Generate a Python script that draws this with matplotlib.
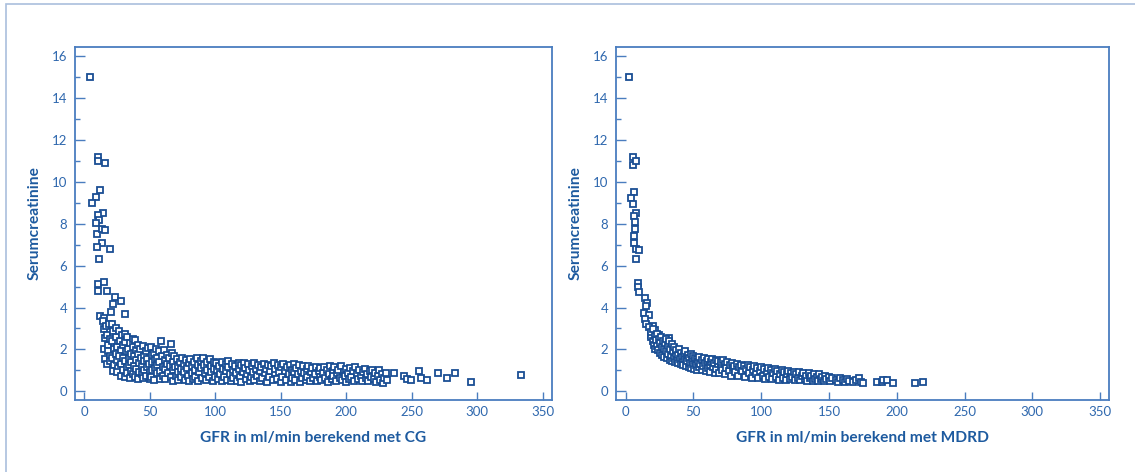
import matplotlib
matplotlib.use("Agg")
import matplotlib.pyplot as plt
from matplotlib.patches import Rectangle
from matplotlib.ticker import MultipleLocator

# ---------------- data: CG ----------------
cg_x = [4.6, 10.9, 10.9, 16, 12.2, 9.1, 6.1, 14.2, 10.4, 11.7, 9.1, 9.6, 13.7, 16, 13.5, 9.6, 20, 11.7,
        10.9, 15.2, 10.7, 17.7, 23.6, 28.2, 22.3, 20.5, 31.2, 12.4, 15.5,
        14.5, 15.5, 16, 15, 15.8, 17, 17.5, 18, 18.5, 17.5, 19, 19.5, 20, 20,
        21, 22, 21.5, 22.5, 21, 23, 22, 24, 24.5, 25, 24, 25.5, 26, 25, 27, 27.5, 28, 27, 28.5, 28, 29, 29.5, 30, 30,
        31, 31.5, 32, 31, 32.5, 31.5, 33, 33.5, 34, 34, 33, 35, 35.5, 36, 36, 35, 37, 37.5, 38, 38, 37, 39, 39.5, 40, 40, 39,
        41, 41.5, 42, 42, 41, 43, 43.5, 44, 44, 45, 45.5, 46, 46, 45, 47, 48, 48, 47, 49, 49.5, 50, 50,
        51, 51.5, 52, 52, 51, 53, 54, 54, 53, 55, 55.5, 56, 56, 57, 57.5, 58, 58, 59, 59.5, 60, 60,
        61, 61.5, 62, 62, 63, 63.5, 64, 65, 65.5, 66, 66, 67, 67.5, 68, 68, 69, 69.5, 70,
        71, 71.5, 72, 72, 73, 74, 74, 75, 76, 76, 77, 78, 78.5, 79, 80, 80,
        81, 82, 82, 83, 84, 85, 85, 86, 87, 87, 88, 89, 89.5, 90,
        91, 91.5, 92, 93, 93.5, 94, 95, 96, 96.5, 97, 98, 99, 99.5, 100,
        101, 101.5, 102, 103, 104, 105, 105.5, 106, 107, 108, 108.5, 109, 110, 110,
        111, 112, 113, 113.5, 114, 115, 116, 117, 118, 118.5, 119, 120, 120,
        121, 122, 123, 123.5, 124, 125, 126, 126.5, 127, 128, 129, 130, 130,
        131, 132, 133, 134, 134.5, 135, 136, 137, 138, 139, 139.5, 140,
        141, 142, 143, 144, 145, 145.5, 146, 147, 148, 149, 150, 150,
        151, 152, 153, 154, 155, 156, 157, 158, 158.5, 159, 160, 160,
        161, 162, 163, 164, 165, 165.5, 166, 167, 168, 169, 170, 170,
        171, 172, 173, 174, 175, 176, 177, 178, 179, 180, 180,
        181, 182, 183, 184, 185, 186, 187, 188, 189, 190, 190,
        191, 192, 193, 194, 195, 196, 197, 198, 199, 200, 200,
        201, 202, 203, 204, 205, 206, 207, 208, 209, 210,
        211, 212, 213, 214, 215, 216, 217, 218, 219, 220,
        221, 222, 223, 224, 225, 226, 227, 228, 229, 230, 231,
        236.7, 243.8, 246.3, 249.6, 255.2, 257, 262, 270.4, 276.8, 283.1, 295, 333]
cg_y = [15.0, 11.2, 11.0, 10.9, 9.6, 9.3, 9.0, 8.5, 8.4, 8.2, 8.05, 7.5, 7.76, 7.7, 7.1, 6.9, 6.8, 6.3,
        5.1, 5.2, 4.78, 4.78, 4.5, 4.3, 4.15, 3.8, 3.67, 3.58, 3.5,
        3.35, 2.95, 2.55, 2.0, 1.55, 3.1, 2.7, 2.2, 1.9, 1.3, 3.2, 2.5, 1.7, 1.45,
        3.2, 2.9, 2.4, 2.0, 1.6, 1.25, 0.95, 3.0, 2.6, 2.1, 1.8, 1.5, 1.1, 0.9, 2.9, 2.4, 1.95, 1.7, 1.3, 0.75, 2.7, 2.2, 1.6, 1.0,
        2.75, 2.35, 1.9, 1.45, 1.15, 0.7, 2.6, 2.0, 1.6, 1.25, 0.85, 2.3, 1.8, 1.4, 0.95, 0.65, 2.5, 2.1, 1.7, 1.2, 0.8, 2.45, 1.95, 1.5, 1.05, 0.7,
        2.2, 1.8, 1.35, 0.9, 0.6, 2.0, 1.6, 1.2, 0.8, 2.15, 1.7, 1.45, 1.0, 0.62, 1.9, 1.55, 1.15, 0.75, 2.05, 1.3, 0.9, 0.6,
        2.1, 1.75, 1.4, 1.0, 0.7, 1.85, 1.5, 1.1, 0.55, 2.0, 1.6, 1.25, 0.85, 1.9, 1.4, 0.95, 0.6, 2.4, 1.7, 1.15, 0.75,
        1.95, 1.5, 1.05, 0.6, 1.75, 1.3, 0.85, 1.6, 1.2, 0.7, 2.25, 1.85, 1.4, 1.0, 0.5, 1.7, 1.15, 0.75,
        1.55, 1.2, 0.9, 0.55, 1.4, 1.05, 0.7, 1.6, 1.3, 0.9, 0.55, 1.5, 1.1, 0.75, 1.35, 0.5,
        1.55, 1.2, 0.85, 0.6, 1.4, 1.0, 0.7, 1.6, 1.25, 0.5, 0.9, 1.45, 1.1, 0.65,
        1.6, 1.25, 0.85, 0.55, 1.4, 1.0, 0.7, 1.55, 1.2, 0.9, 0.5, 1.4, 1.05, 0.7,
        1.35, 1.0, 0.6, 1.2, 0.8, 1.4, 0.5, 1.05, 0.7, 1.3, 0.95, 0.55, 1.45, 1.15,
        0.8, 0.5, 1.3, 1.0, 0.65, 1.2, 0.85, 0.5, 1.35, 1.05, 0.7, 1.25, 0.45,
        0.9, 1.35, 1.1, 0.6, 0.8, 1.3, 1.0, 0.5, 0.7, 1.2, 0.9, 1.35, 0.55,
        1.05, 0.75, 1.25, 0.5, 0.95, 1.15, 0.65, 1.3, 0.85, 1.05, 0.45, 1.25,
        0.7, 0.95, 1.2, 0.55, 1.35, 0.85, 1.05, 0.6, 1.25, 0.9, 0.45, 1.15,
        0.7, 1.3, 0.95, 0.55, 1.15, 0.8, 1.25, 0.45, 1.0, 0.65, 1.3, 0.9,
        0.55, 1.1, 0.8, 1.25, 0.45, 0.95, 0.65, 1.2, 0.85, 0.55, 1.05, 0.7,
        1.2, 0.5, 0.9, 1.1, 0.65, 0.8, 1.15, 0.5, 0.95, 0.7, 1.1,
        0.55, 0.85, 1.15, 0.65, 1.0, 0.45, 0.8, 1.2, 0.6, 0.95, 0.75,
        1.15, 0.5, 0.85, 1.0, 0.65, 1.2, 0.55, 0.9, 0.75, 1.05, 0.45,
        0.85, 0.6, 1.1, 0.7, 0.95, 0.5, 1.15, 0.8, 0.6, 1.0,
        0.75, 0.5, 0.9, 1.05, 0.65, 0.8, 0.5, 0.95, 0.7, 1.0,
        0.6, 0.85, 0.45, 0.75, 1.0, 0.55, 0.8, 0.4, 0.65, 0.85, 0.55,
        0.85, 0.72, 0.59, 0.53, 0.96, 0.64, 0.53, 0.88, 0.64, 0.88, 0.45, 0.77]

# ---------------- data: MDRD ----------------
md_x = [2.7, 5.2, 5.2, 7.6, 5.9, 4.2, 5.2, 7.7, 5.9, 7.2, 7.2, 5.9, 6.4, 7.7, 10.1, 7.7, 8.9, 8.9, 10.1,
        14.5, 15.8, 15, 13.3, 17, 14, 15, 19.9, 19, 24.3, 21.4, 31.7,
        17.5, 18.5, 19, 20, 20.5, 21, 21.5, 22, 22.5, 23, 23.5, 24, 24.5, 25,
        25.5, 26, 26.5, 27, 27.5, 28, 28.5, 29, 29.5, 30, 30.5, 31, 31.5, 32, 32.5, 33, 33.5, 34, 34.5, 35,
        35.5, 36, 36.5, 37, 37.5, 38, 38.5, 39, 39.5, 40, 40.5, 41, 41.5, 42, 42.5, 43, 43.5, 44, 44.5, 45,
        45.5, 46, 46.5, 47, 47.5, 48, 48.5, 49, 49.5, 50, 50.5, 51, 51.5, 52, 52.5, 53, 53.5, 54, 54.5, 55,
        56, 56.5, 57, 58, 58.5, 59, 60, 60.5, 61, 62, 62.5, 63, 64, 64.5, 65, 66, 66.5, 67, 68, 68.5, 69, 70, 70.5,
        71, 72, 73, 73.5, 74, 75, 76, 77, 78, 78.5, 79, 80, 81, 82, 83, 84, 85, 86, 87, 88, 89, 90, 91, 92, 93, 94, 95,
        96, 97, 98, 99, 100, 101, 102, 103, 104, 105, 106, 107, 108, 109, 110, 111, 112, 113, 114, 115, 116, 117, 118, 119, 120,
        121, 122, 123, 124, 125, 126, 127, 128, 129, 130, 131, 132, 133, 134, 135, 136, 137, 138, 139, 140, 141, 142, 143, 144, 145,
        146, 147, 148, 150, 151, 152, 155, 157, 158, 160, 162, 163, 165, 168, 170, 172, 174, 175,
        185.4, 189, 190, 193, 197, 213.6, 219.3]
md_y = [15.0, 11.2, 10.8, 11.0, 9.5, 9.25, 8.97, 8.5, 8.37, 8.1, 7.76, 7.44, 7.1, 6.8, 6.74, 6.3, 5.15, 5.0, 4.75,
        4.46, 4.22, 4.06, 3.75, 3.62, 3.46, 3.19, 3.14, 2.71, 2.71, 2.92, 2.55,
        3.05, 2.6, 2.85, 2.4, 2.95, 2.2, 2.65, 2.0, 2.45, 2.75, 2.15, 1.95, 2.5, 2.3,
        1.85, 2.6, 2.1, 1.75, 2.4, 2.0, 1.65, 2.3, 1.9, 2.5, 1.6, 2.15, 1.8, 2.4, 1.5, 2.0, 1.7, 2.25, 1.45, 1.9,
        1.6, 2.1, 1.4, 1.8, 1.95, 1.5, 1.35, 1.75, 2.0, 1.55, 1.3, 1.85, 1.65, 1.4, 1.25, 1.75, 1.55, 1.9, 1.2, 1.6,
        1.45, 1.75, 1.15, 1.6, 1.35, 1.8, 1.1, 1.5, 1.3, 1.7, 1.05, 1.45, 1.6, 1.25, 1.0, 1.55, 1.4, 1.15, 1.65, 1.3,
        1.0, 1.5, 1.2, 1.6, 1.35, 0.95, 1.45, 1.1, 1.55, 1.25, 0.9, 1.4, 1.55, 1.15, 1.35, 0.85, 1.5, 1.05, 1.3, 1.45, 0.85, 1.2, 1.4,
        1.0, 1.5, 0.8, 1.3, 1.1, 1.4, 0.95, 1.25, 0.75, 1.35, 1.1, 1.2, 0.9, 1.3, 0.75, 1.15, 1.25, 0.95, 1.2, 0.7, 1.05, 1.25, 0.85, 1.15, 0.65, 1.0, 1.2,
        0.8, 1.1, 0.65, 0.95, 1.15, 0.75, 1.05, 0.6, 0.9, 1.1, 0.7, 1.0, 0.6, 0.85, 1.05, 0.7, 0.95, 0.55, 0.8, 1.0, 0.65, 0.9, 0.55, 0.8, 0.95,
        0.6, 0.85, 0.7, 0.9, 0.55, 0.8, 0.65, 0.9, 0.55, 0.75, 0.85, 0.6, 0.75, 0.5, 0.85, 0.65, 0.75, 0.5, 0.8, 0.6, 0.7, 0.5, 0.8, 0.6, 0.7,
        0.5, 0.75, 0.6, 0.7, 0.5, 0.65, 0.55, 0.45, 0.65, 0.55, 0.45, 0.6, 0.5, 0.45, 0.55, 0.65, 0.45, 0.4,
        0.45, 0.42, 0.52, 0.55, 0.4, 0.4, 0.45]

x_ticks = [0, 50, 100, 150, 200, 250, 300, 350]
y_ticks = [0, 2, 4, 6, 8, 10, 12, 14, 16]
x_labels = ["GFR in ml/min berekend met CG", "GFR in ml/min berekend met MDRD"]
y_label = "Serumcreatinine"

# ---------------- style ----------------
W, H = 1135, 472
MARK = "#1a4e94"
SPINE = "#4a7dbf"
TICKC = "#2f68ae"
LABELC = "#1d5a9f"
FRAME = "#aabfdd"

plt.rcParams["font.family"] = ["Lato", "DejaVu Sans"]

fig = plt.figure(figsize=(W / 100, H / 100), dpi=100)
fig.patch.set_facecolor("white")

# outer frame (open on right/bottom, as in reference)
fig.patches.append(Rectangle((6 / W, -0.2), 1.2, 1.2 - 4 / H, transform=fig.transFigure,
                             fill=False, edgecolor=FRAME, linewidth=1.2, zorder=0))

axes_px = [(75, 552), (616, 1109)]
datasets = [(cg_x, cg_y), (md_x, md_y)]
xlims = [(-6.9, 357), (-7.1, 356.6)]

for i, ((l, r), (xs, ys)) in enumerate(zip(axes_px, datasets)):
    ax = fig.add_axes([l / W, (H - 400) / H, (r - l) / W, 353 / H])
    ax.plot(xs, ys, linestyle="none", marker="s", markersize=4.8,
            markerfacecolor="white", markeredgecolor=MARK, markeredgewidth=1.3,
            clip_on=False, zorder=3)
    ax.set_xlim(*xlims[i])
    ax.set_ylim(-0.42, 16.45)
    ax.set_xticks(x_ticks)
    ax.set_yticks(y_ticks)
    ax.yaxis.set_minor_locator(MultipleLocator(1))
    for s in ax.spines.values():
        s.set_color(SPINE)
        s.set_linewidth(1.3)
    ax.tick_params(axis="y", which="major", direction="in", length=7.2, width=1.0,
                   color=SPINE, labelcolor=TICKC, labelsize=9.5, pad=5.5)
    ax.tick_params(axis="y", which="minor", direction="in", length=3.6, width=1.0,
                   color=SPINE)
    ax.tick_params(axis="x", which="major", direction="in", length=6.0, width=1.0,
                   color=SPINE, labelcolor=TICKC, labelsize=9.5, pad=4.5)
    ax.set_xlabel(x_labels[i], fontsize=11.2, fontweight="bold", color=LABELC)
    ax.set_ylabel(y_label, fontsize=11.2, fontweight="bold", color=LABELC)
    ax.xaxis.set_label_coords(0.5, -0.087)
    ax.xaxis.label.set_va("top")
    ax.yaxis.set_label_coords(-40 / (r - l), 0.5)
    ax.yaxis.label.set_va("center")

fig.savefig("out.png", dpi=100, facecolor="white")
